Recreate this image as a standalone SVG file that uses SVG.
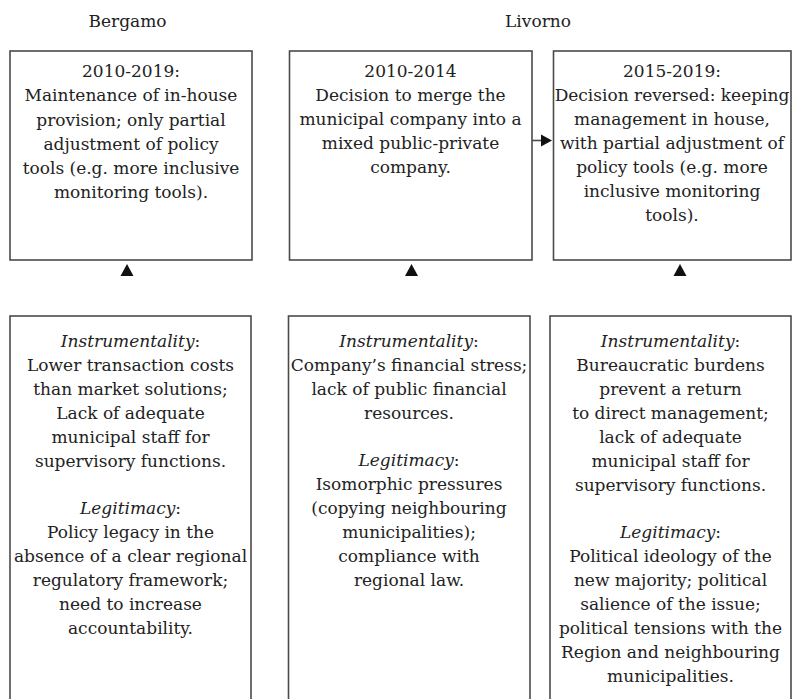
<svg xmlns="http://www.w3.org/2000/svg" width="792" height="699" viewBox="0 0 792 699">
<style>
  .box { fill: #ffffff; stroke: #4a4a4a; stroke-width: 1.6; }
  text { font-family: "DejaVu Serif", "Liberation Serif", serif; font-size: 17px; fill: #222222; text-anchor: middle; }
  .it { font-style: italic; }
  .head { fill: #111; }
  .conn { stroke: #4a4a4a; stroke-width: 1.6; fill: none; }
</style>
<rect width="792" height="699" fill="#ffffff"/>
<g id="labels">
  <text x="127.5" y="27">Bergamo</text>
  <text x="538" y="27">Livorno</text>
</g>
<g id="bergamo-decision">
  <rect class="box" x="10" y="51" width="242" height="209"/>
  <text x="131" y="77">2010-2019:</text>
  <text x="131" y="101">Maintenance of in-house</text>
  <text x="131" y="125.5">provision; only partial</text>
  <text x="131" y="149.5">adjustment of policy</text>
  <text x="131" y="174">tools (e.g. more inclusive</text>
  <text x="131" y="198">monitoring tools).</text>
</g>
<g id="livorno-decision-1">
  <rect class="box" x="289.5" y="51" width="242.5" height="209"/>
  <text x="410.5" y="77">2010-2014</text>
  <text x="410.5" y="101">Decision to merge the</text>
  <text x="410.5" y="125">municipal company into a</text>
  <text x="410.5" y="149">mixed public-private</text>
  <text x="410.5" y="173">company.</text>
</g>
<g id="livorno-decision-2">
  <rect class="box" x="553.5" y="51" width="237.5" height="209"/>
  <text x="672" y="77">2015-2019:</text>
  <text x="672" y="101">Decision reversed: keeping</text>
  <text x="672" y="125">management in house,</text>
  <text x="672" y="149">with partial adjustment of</text>
  <text x="672" y="173">policy tools (e.g. more</text>
  <text x="672" y="197">inclusive monitoring</text>
  <text x="672" y="221">tools).</text>
</g>
<g id="bergamo-drivers">
  <rect class="box" x="10" y="316" width="241" height="400"/>
  <text x="130.5" y="346.5"><tspan class="it">Instrumentality</tspan>:</text>
  <text x="130.5" y="370.5">Lower transaction costs</text>
  <text x="130.5" y="394.5">than market solutions;</text>
  <text x="130.5" y="418.5">Lack of adequate</text>
  <text x="130.5" y="442.5">municipal staff for</text>
  <text x="130.5" y="466.5">supervisory functions.</text>
  <text x="130.5" y="514"><tspan class="it">Legitimacy</tspan>:</text>
  <text x="130.5" y="538">Policy legacy in the</text>
  <text x="130.5" y="562">absence of a clear regional</text>
  <text x="130.5" y="586">regulatory framework;</text>
  <text x="130.5" y="610">need to increase</text>
  <text x="130.5" y="634">accountability.</text>
</g>
<g id="livorno-drivers-1">
  <rect class="box" x="288.5" y="316" width="241.5" height="400"/>
  <text x="409" y="346.5"><tspan class="it">Instrumentality</tspan>:</text>
  <text x="409" y="370.5">Company’s financial stress;</text>
  <text x="409" y="394.5">lack of public financial</text>
  <text x="409" y="418.5">resources.</text>
  <text x="409" y="466"><tspan class="it">Legitimacy</tspan>:</text>
  <text x="409" y="490">Isomorphic pressures</text>
  <text x="409" y="514">(copying neighbouring</text>
  <text x="409" y="538">municipalities);</text>
  <text x="409" y="562">compliance with</text>
  <text x="409" y="586">regional law.</text>
</g>
<g id="livorno-drivers-2">
  <rect class="box" x="550" y="316" width="241" height="400"/>
  <text x="670.5" y="346.5"><tspan class="it">Instrumentality</tspan>:</text>
  <text x="670.5" y="370.5">Bureaucratic burdens</text>
  <text x="670.5" y="394.5">prevent a return</text>
  <text x="670.5" y="418.5">to direct management;</text>
  <text x="670.5" y="442.5">lack of adequate</text>
  <text x="670.5" y="466.5">municipal staff for</text>
  <text x="670.5" y="490.5">supervisory functions.</text>
  <text x="670.5" y="538"><tspan class="it">Legitimacy</tspan>:</text>
  <text x="670.5" y="562">Political ideology of the</text>
  <text x="670.5" y="586">new majority; political</text>
  <text x="670.5" y="610">salience of the issue;</text>
  <text x="670.5" y="634">political tensions with the</text>
  <text x="670.5" y="658">Region and neighbouring</text>
  <text x="670.5" y="682">municipalities.</text>
</g>
<g id="connectors">
  <line class="conn" x1="532" y1="140.5" x2="542" y2="140.5"/>
  <polygon class="head" points="541,134.5 552,140.5 541,146.5"/>
  <polygon class="head" points="120.5,276 127,264 133.5,276"/>
  <polygon class="head" points="405,276 411.5,264 418,276"/>
  <polygon class="head" points="673.5,276 680,264 686.5,276"/>
</g>
</svg>
